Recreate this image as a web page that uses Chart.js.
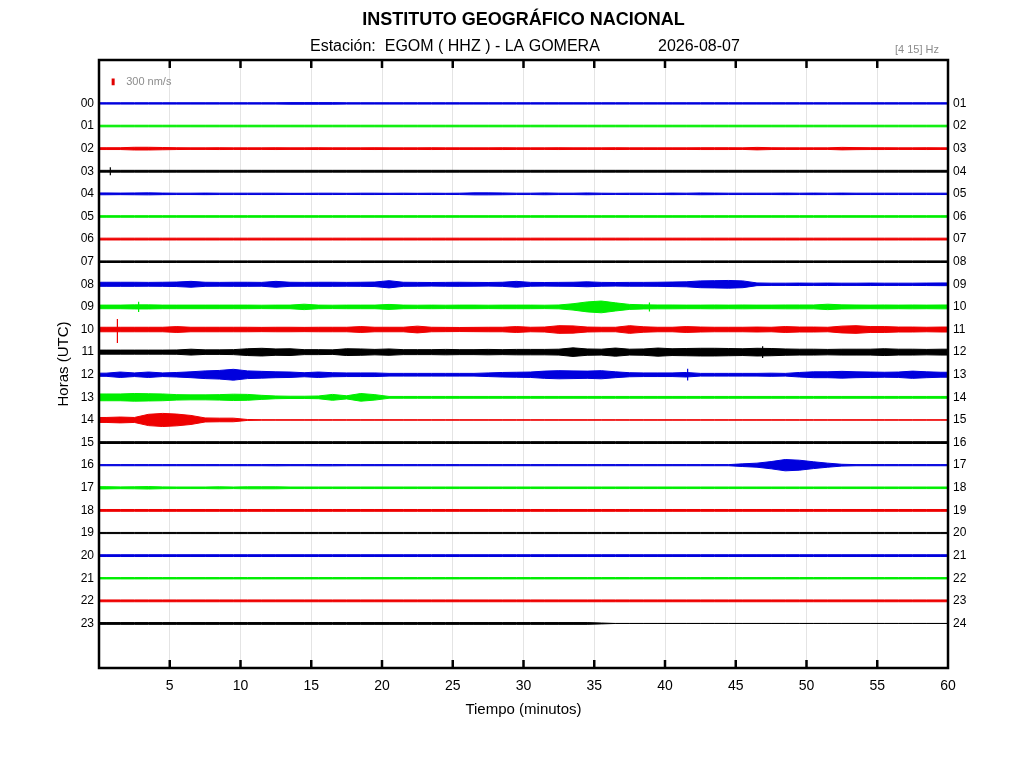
<!DOCTYPE html>
<html>
<head>
<meta charset="utf-8">
<title>EGOM - helicorder</title>
<script src="https://cdn.jsdelivr.net/npm/chart.js@4.4.1/dist/chart.umd.min.js"></script>
<style>
    html, body { margin: 0; padding: 0; background: #fff; }
    canvas { display: block; }
</style>
</head>
<body>
<canvas id="canvasHelicorder" width="1024" height="768"></canvas>
<script>
// filas del sismograma (horas UTC) y ticks del eje de tiempo
var horas = [0, 1, 2, 3, 4, 5, 6, 7, 8, 9, 10, 11, 12, 13, 14, 15, 16, 17, 18, 19, 20, 21, 22, 23];
var minutosTicks = [0, 5, 10, 15, 20, 25, 30, 35, 40, 45, 50, 55, 60];
var coloresTraza = ['#0000dd', '#00ee00', '#ee0000', '#000000'];

// amplitud pico por minuto (nm/s)
var amp00 = [
    30, 30, 30, 30, 30, 30, 30, 30, 30, 30, 30, 30, 30, 35, 35, 35, 35, 30, 30, 30,
    30, 30, 30, 30, 30, 30, 30, 30, 30, 30, 30, 30, 30, 30, 30, 30, 30, 30, 30, 30,
    30, 30, 30, 30, 30, 30, 30, 30, 30, 30, 30, 30, 30, 30, 30, 30, 30, 30, 30, 30];
var amp01 = [
    35, 35, 35, 35, 35, 35, 35, 35, 35, 35, 35, 35, 35, 35, 35, 35, 35, 35, 35, 35,
    35, 35, 35, 35, 35, 35, 35, 35, 35, 35, 35, 35, 35, 35, 35, 35, 35, 35, 35, 35,
    35, 35, 35, 35, 35, 35, 35, 35, 35, 35, 35, 35, 35, 35, 35, 35, 35, 35, 35, 35];
var amp02 = [
    40, 40, 60, 60, 50, 40, 35, 35, 40, 35, 35, 35, 40, 35, 35, 40, 35, 35, 35, 40,
    35, 35, 35, 40, 35, 35, 35, 35, 40, 35, 35, 35, 40, 35, 35, 35, 40, 35, 35, 35,
    35, 35, 40, 40, 40, 35, 55, 40, 35, 35, 35, 35, 55, 45, 40, 40, 35, 35, 40, 35];
var amp03 = [
    40, 40, 40, 40, 40, 40, 40, 40, 40, 40, 40, 40, 40, 40, 40, 40, 40, 40, 40, 40,
    40, 40, 40, 40, 40, 40, 40, 40, 40, 40, 40, 40, 40, 40, 40, 40, 40, 40, 40, 40,
    40, 40, 40, 40, 40, 40, 40, 40, 40, 40, 40, 40, 40, 40, 40, 40, 40, 40, 40, 40];
var amp04 = [
    40, 35, 40, 45, 35, 30, 30, 35, 30, 30, 30, 30, 30, 25, 25, 30, 30, 25, 30, 30,
    25, 30, 25, 30, 25, 30, 45, 45, 40, 30, 30, 40, 30, 30, 40, 30, 25, 30, 30, 25,
    35, 30, 40, 35, 30, 30, 30, 30, 35, 30, 35, 30, 35, 30, 30, 30, 30, 30, 30, 30];
var amp05 = [
    35, 35, 35, 35, 35, 35, 35, 35, 35, 35, 35, 35, 35, 35, 35, 35, 35, 35, 35, 35,
    35, 35, 35, 35, 35, 35, 35, 35, 35, 35, 35, 35, 35, 35, 35, 35, 35, 35, 35, 35,
    35, 35, 35, 35, 35, 35, 35, 35, 35, 35, 35, 35, 35, 35, 35, 35, 35, 35, 35, 35];
var amp06 = [
    40, 40, 40, 40, 40, 40, 40, 40, 40, 40, 40, 40, 40, 40, 40, 40, 40, 40, 40, 40,
    40, 40, 40, 40, 40, 40, 40, 40, 40, 40, 40, 40, 40, 40, 40, 40, 40, 40, 40, 40,
    40, 40, 40, 40, 40, 40, 40, 40, 40, 40, 40, 40, 40, 40, 40, 40, 40, 40, 40, 40];
var amp07 = [
    35, 35, 35, 35, 35, 35, 35, 35, 35, 35, 35, 35, 35, 35, 35, 35, 35, 35, 35, 35,
    35, 35, 35, 35, 35, 35, 35, 35, 35, 35, 35, 35, 35, 35, 35, 35, 35, 35, 35, 35,
    35, 35, 35, 35, 35, 35, 35, 35, 35, 35, 35, 35, 35, 35, 35, 35, 35, 35, 35, 35];
var amp08 = [
    90, 90, 90, 85, 90, 100, 130, 90, 85, 90, 90, 85, 130, 90, 85, 90, 90, 85, 90, 100,
    160, 90, 85, 80, 85, 90, 85, 80, 90, 130, 85, 80, 85, 90, 110, 85, 80, 85, 85, 90,
    100, 110, 150, 160, 170, 150, 60, 50, 50, 55, 50, 55, 50, 50, 55, 50, 50, 50, 55, 60];
var amp09 = [
    80, 80, 90, 90, 80, 80, 80, 80, 80, 80, 80, 75, 80, 80, 120, 80, 75, 80, 80, 80,
    110, 80, 75, 80, 75, 80, 80, 75, 80, 80, 80, 75, 85, 140, 220, 260, 180, 110, 90, 85,
    85, 80, 80, 85, 80, 85, 80, 80, 85, 85, 85, 120, 90, 85, 80, 85, 80, 85, 80, 85];
var amp10 = [
    100, 100, 100, 100, 100, 130, 100, 100, 100, 100, 100, 95, 100, 100, 95, 100, 100, 100, 130, 100,
    100, 100, 150, 100, 95, 90, 95, 100, 100, 130, 100, 110, 170, 160, 110, 100, 100, 170, 120, 100,
    100, 130, 110, 100, 100, 100, 110, 100, 130, 110, 110, 100, 150, 170, 130, 130, 110, 110, 100, 110];
var amp11 = [
    90, 90, 90, 90, 90, 95, 130, 100, 100, 110, 150, 170, 140, 150, 110, 110, 100, 150, 140, 120,
    140, 110, 110, 110, 120, 110, 110, 120, 110, 120, 120, 120, 130, 190, 140, 130, 180, 130, 140, 180,
    150, 160, 170, 170, 160, 150, 170, 160, 140, 130, 130, 120, 130, 130, 130, 150, 130, 130, 120, 130];
var amp12 = [
    70, 120, 80, 120, 80, 100, 130, 170, 190, 240, 170, 150, 130, 120, 90, 120, 90, 80, 80, 80,
    60, 60, 60, 60, 60, 60, 60, 80, 100, 110, 120, 160, 180, 170, 160, 180, 130, 90, 80, 80,
    80, 100, 60, 60, 60, 60, 60, 70, 60, 100, 130, 130, 150, 130, 120, 110, 120, 160, 130, 110];
var amp13 = [
    150, 150, 170, 160, 150, 120, 110, 110, 120, 140, 130, 90, 60, 50, 50, 60, 130, 70, 170, 120,
    40, 40, 40, 40, 40, 40, 40, 40, 40, 40, 40, 40, 40, 40, 40, 40, 40, 40, 40, 40,
    40, 40, 40, 40, 40, 40, 40, 40, 40, 40, 40, 40, 40, 40, 40, 40, 40, 40, 40, 40];
var amp14 = [
    110, 130, 110, 250, 290, 260, 200, 90, 80, 80, 20, 10, 8, 8, 8, 8, 8, 8, 8, 8,
    8, 8, 8, 8, 8, 8, 8, 8, 8, 8, 8, 8, 8, 8, 8, 8, 8, 8, 8, 8,
    8, 8, 8, 8, 8, 8, 8, 8, 8, 8, 8, 8, 8, 8, 8, 8, 8, 8, 8, 8];
var amp15 = [
    40, 40, 40, 40, 40, 40, 40, 40, 40, 40, 40, 40, 40, 40, 40, 40, 40, 40, 40, 40,
    40, 40, 40, 40, 40, 40, 40, 40, 40, 40, 40, 40, 40, 40, 40, 40, 40, 40, 40, 40,
    40, 40, 40, 40, 40, 40, 40, 40, 40, 40, 40, 40, 40, 40, 40, 40, 40, 40, 40, 40];
var amp16 = [
    25, 25, 25, 25, 25, 25, 25, 25, 25, 25, 25, 25, 30, 25, 25, 30, 30, 25, 25, 25,
    25, 25, 25, 25, 25, 25, 25, 25, 25, 25, 25, 25, 25, 25, 25, 25, 25, 25, 25, 25,
    25, 25, 25, 25, 25, 60, 90, 160, 250, 220, 150, 90, 40, 25, 25, 25, 25, 25, 25, 25];
var amp17 = [
    50, 40, 45, 55, 40, 35, 35, 35, 45, 35, 45, 45, 45, 35, 35, 35, 35, 35, 35, 35,
    35, 35, 35, 35, 35, 35, 35, 35, 35, 35, 35, 35, 35, 35, 35, 35, 35, 35, 35, 35,
    35, 35, 35, 35, 35, 35, 35, 35, 35, 35, 35, 35, 35, 35, 35, 35, 35, 35, 35, 35];
var amp18 = [
    40, 40, 40, 40, 40, 40, 40, 40, 40, 40, 40, 40, 40, 40, 40, 40, 40, 40, 40, 40,
    40, 40, 40, 40, 40, 40, 40, 40, 40, 40, 40, 40, 40, 40, 40, 40, 40, 40, 40, 40,
    40, 40, 40, 40, 40, 40, 40, 40, 40, 40, 40, 40, 40, 40, 40, 40, 40, 40, 40, 40];
var amp19 = [
    25, 25, 25, 25, 25, 25, 25, 25, 25, 25, 25, 25, 25, 25, 25, 25, 25, 25, 25, 25,
    25, 25, 25, 25, 25, 25, 25, 25, 25, 25, 25, 25, 25, 25, 25, 25, 25, 25, 25, 25,
    25, 25, 25, 25, 25, 25, 25, 25, 25, 25, 25, 25, 25, 25, 25, 25, 25, 25, 25, 25];
var amp20 = [
    40, 40, 40, 40, 40, 40, 40, 40, 40, 40, 40, 40, 40, 40, 40, 40, 40, 40, 40, 40,
    40, 40, 40, 40, 40, 40, 40, 40, 40, 40, 40, 40, 40, 40, 40, 40, 40, 40, 40, 40,
    40, 40, 40, 40, 40, 40, 40, 40, 40, 40, 40, 40, 40, 40, 40, 40, 40, 40, 40, 40];
var amp21 = [
    30, 30, 30, 30, 30, 30, 30, 30, 30, 30, 30, 30, 30, 30, 30, 30, 30, 30, 30, 30,
    30, 30, 30, 30, 30, 30, 30, 30, 30, 30, 30, 30, 30, 30, 30, 30, 30, 30, 30, 30,
    30, 30, 30, 30, 30, 30, 30, 30, 30, 30, 30, 30, 30, 30, 30, 30, 30, 30, 30, 30];
var amp22 = [
    40, 40, 40, 40, 40, 40, 40, 40, 40, 40, 40, 40, 40, 40, 40, 40, 40, 40, 40, 40,
    40, 40, 40, 40, 40, 40, 40, 40, 40, 40, 40, 40, 40, 40, 40, 40, 40, 40, 40, 40,
    40, 40, 40, 40, 40, 40, 40, 40, 40, 40, 40, 40, 40, 40, 40, 40, 40, 40, 40, 40];
var amp23 = [
    40, 40, 40, 40, 40, 40, 40, 40, 40, 40, 40, 40, 40, 40, 40, 40, 40, 40, 40, 40,
    40, 40, 40, 40, 40, 40, 40, 40, 40, 40, 40, 40, 40, 40, 40, 20, 0, 0, 0, 0,
    0, 0, 0, 0, 0, 0, 0, 0, 0, 0, 0, 0, 0, 0, 0, 0, 0, 0, 0, 0];

var amplitudes = [amp00, amp01, amp02, amp03, amp04, amp05, amp06, amp07, amp08, amp09, amp10, amp11,
    amp12, amp13, amp14, amp15, amp16, amp17, amp18, amp19, amp20, amp21, amp22, amp23];

// picos sueltos: [hora, minuto, arriba nm/s, abajo nm/s]
var picos = [
    [3, 0.8, 180, 180],
    [9, 2.8, 230, 230],
    [9, 38.9, 200, 200],
    [10, 1.3, 470, 600],
    [11, 46.9, 260, 260],
    [12, 41.6, 260, 260],
    [15, 32.3, 60, 60]
];

var escalaNms = 300;      // barra de escala
var nmsPorFila = 1000;    // nm/s que ocupa una fila completa
var escalaMinuto = 1;
var escalaFila = -0.95;

var fuente = "'Liberation Sans', Arial, Helvetica, sans-serif";
Chart.defaults.font.family = fuente;
Chart.defaults.color = '#000';

var datasets = [];
for (let h = 0; h < horas.length; h++) {
    let a = amplitudes[h];
    let color = coloresTraza[h % 4];
    let arriba = [{ x: 0, y: horas[h] - a[0] / nmsPorFila }];
    let abajo = [{ x: 0, y: horas[h] + a[0] / nmsPorFila }];
    for (let i = 0; i < a.length; i++) {
        arriba = [...arriba, { x: i + 0.5, y: horas[h] - a[i] / nmsPorFila }];
        abajo = [...abajo, { x: i + 0.5, y: horas[h] + a[i] / nmsPorFila }];
    }
    arriba.push({ x: 60, y: horas[h] - a[a.length - 1] / nmsPorFila });
    abajo.push({ x: 60, y: horas[h] + a[a.length - 1] / nmsPorFila });

    datasets.push({ data: arriba, borderColor: color, backgroundColor: color, borderWidth: 1, pointRadius: 0, fill: false });
    datasets.push({ data: abajo, borderColor: color, backgroundColor: color, borderWidth: 1, pointRadius: 0, fill: '-1' });
}

for (let p of picos) {
    datasets.push({
        data: [{ x: p[1], y: p[0] - p[2] / nmsPorFila }, { x: p[1], y: p[0] + p[3] / nmsPorFila }],
        borderColor: coloresTraza[p[0] % 4], borderWidth: 1.2, pointRadius: 0, fill: false
    });
}

// barra de 300 nm/s
datasets.push({
    data: [{ x: escalaMinuto, y: escalaFila - escalaNms / nmsPorFila / 2 }, { x: escalaMinuto, y: escalaFila + escalaNms / nmsPorFila / 2 }],
    borderColor: '#e00000', borderWidth: 3, pointRadius: 0, fill: false
});

var decoracion = {
    id: 'decoracion',
    afterDatasetsDraw(chart) {
        const ctx = chart.ctx;
        const area = chart.chartArea;
        const sx = chart.scales.x;
        const sy = chart.scales.y;
        ctx.save();
        ctx.strokeStyle = '#000';
        ctx.lineWidth = 2.5;
        ctx.strokeRect(area.left, area.top, area.right - area.left, area.bottom - area.top);
        ctx.beginPath();
        for (let v of minutosTicks) {
            if (v <= 0 || v >= 60) continue;
            let px = sx.getPixelForValue(v);
            ctx.moveTo(px, area.bottom);
            ctx.lineTo(px, area.bottom - 8);
            ctx.moveTo(px, area.top);
            ctx.lineTo(px, area.top + 8);
        }
        ctx.stroke();

        ctx.fillStyle = '#8c8c8c';
        ctx.font = '11px ' + fuente;
        ctx.textAlign = 'left';
        ctx.textBaseline = 'middle';
        ctx.fillText(escalaNms + ' nm/s', sx.getPixelForValue(escalaMinuto) + 13, sy.getPixelForValue(escalaFila));
        ctx.restore();
    },
    afterDraw(chart) {
        const ctx = chart.ctx;
        const area = chart.chartArea;
        const centro = (area.left + area.right) / 2;
        ctx.save();
        ctx.fillStyle = '#000';
        ctx.textBaseline = 'middle';
        ctx.textAlign = 'center';
        ctx.font = 'bold 18px ' + fuente;
        ctx.fillText('INSTITUTO GEOGRÁFICO NACIONAL', centro, 20);

        ctx.font = '16px ' + fuente;
        ctx.textAlign = 'left';
        ctx.fillText('Estación:  EGOM ( HHZ ) - LA GOMERA', 310, 47);
        ctx.fillText('2026-08-07', 658, 47);

        ctx.fillStyle = '#8c8c8c';
        ctx.font = '11px ' + fuente;
        ctx.textAlign = 'right';
        ctx.fillText('[4 15] Hz', 939, 50);

        ctx.fillStyle = '#000';
        ctx.font = '15px ' + fuente;
        ctx.textAlign = 'center';
        ctx.fillText('Tiempo (minutos)', centro, 710);

        ctx.translate(64, (area.top + area.bottom) / 2);
        ctx.rotate(-Math.PI / 2);
        ctx.fillText('Horas (UTC)', 0, 0);
        ctx.restore();
    }
};

function ticksHoras(scale) {
    scale.ticks = horas.map(h => ({ value: h }));
}

var ctx = document.getElementById('canvasHelicorder').getContext('2d');
var chartHelicorder = new Chart(ctx, {
    type: 'line',
    data: { datasets: datasets },
    options: {
        responsive: false,
        animation: false,
        devicePixelRatio: 1,
        parsing: true,
        layout: { padding: { top: 60, left: 0, right: 0, bottom: 0 } },
        plugins: {
            legend: { display: false },
            tooltip: { enabled: false },
            title: { display: false }
        },
        scales: {
            x: {
                type: 'linear',
                min: 0,
                max: 60,
                afterFit: function (s) { s.height = 100; },
                afterBuildTicks: function (s) { s.ticks = minutosTicks.map(v => ({ value: v })); },
                ticks: {
                    callback: v => (v === 0 ? '' : v),
                    font: { size: 14 },
                    color: '#000',
                    padding: 10,
                    maxRotation: 0,
                    autoSkip: false
                },
                grid: { color: '#e4e4e4', lineWidth: 1, drawTicks: false },
                border: { display: false }
            },
            y: {
                type: 'linear',
                position: 'left',
                reverse: true,
                min: -1.92,
                max: 24.97,
                afterFit: function (s) { s.width = 99; },
                afterBuildTicks: ticksHoras,
                ticks: {
                    callback: v => String(v).padStart(2, '0'),
                    font: { size: 12 },
                    color: '#000',
                    padding: 5,
                    autoSkip: false
                },
                grid: { display: false, drawTicks: false },
                border: { display: false }
            },
            y2: {
                type: 'linear',
                position: 'right',
                reverse: true,
                min: -1.92,
                max: 24.97,
                afterFit: function (s) { s.width = 76; },
                afterBuildTicks: ticksHoras,
                ticks: {
                    callback: v => String(v + 1).padStart(2, '0'),
                    font: { size: 12 },
                    color: '#000',
                    padding: 5,
                    autoSkip: false
                },
                grid: { display: false, drawTicks: false },
                border: { display: false }
            }
        }
    },
    plugins: [decoracion]
});
</script>
</body>
</html>
